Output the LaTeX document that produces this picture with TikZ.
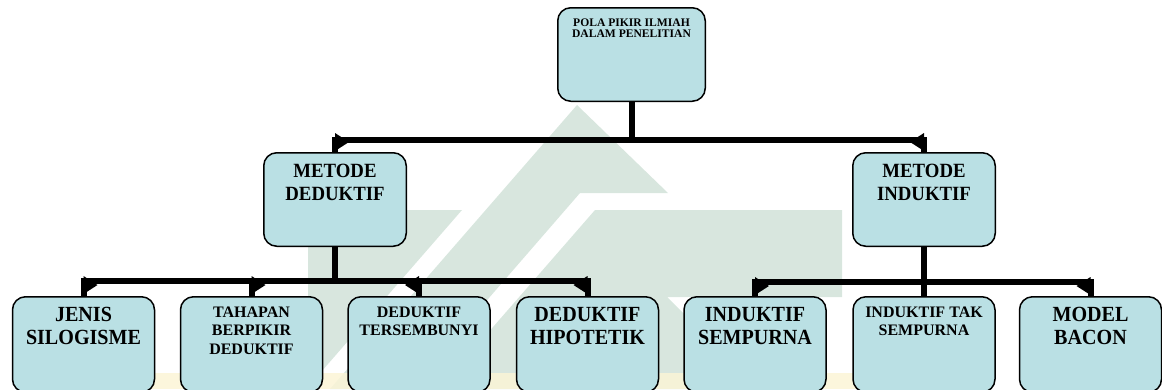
\documentclass[tikz,border=0pt]{standalone}
\usepackage{fontspec}
\setmainfont{Liberation Serif}
\newfontfamily\narrowserif[FakeStretch=0.93]{Liberation Serif}
\usetikzlibrary{calc}

\definecolor{boxfill}{RGB}{186,224,228}
\definecolor{wmgreen}{RGB}{216,230,222}
\definecolor{wmyellow}{RGB}{251,245,214}

\begin{document}
\begin{tikzpicture}[x=1pt,y=-1pt,
  box/.style={draw=black, line width=1.5pt, fill=boxfill, rounded corners=13pt,
              minimum width=142pt, minimum height=95.5pt, inner sep=0pt, outer sep=0pt},
  midbox/.style={box, minimum width=142.5pt, minimum height=93.5pt},
  rootbox/.style={box, minimum width=147.5pt, minimum height=93.5pt},
  lbl/.style={anchor=north, inner sep=0pt, outer sep=0pt, align=center},
  fxs/.style={font=\bfseries\fontsize{11.6}{11.3}\selectfont},
  fmid/.style={font=\narrowserif\bfseries\fontsize{20.2}{23.3}\selectfont},
  fbig/.style={font=\narrowserif\bfseries\fontsize{21.6}{23.3}\selectfont},
  fsm/.style={font=\bfseries\fontsize{16}{18.4}\selectfont},
  bar/.style={draw=black, line width=6pt, line cap=butt, line join=miter},
  tip/.style={fill=black}
]
\useasboundingbox (0,0) rectangle (1162,389);
\begin{scope}
\clip (0,0) rectangle (1162,389);

% faint logo in the background
\fill[wmgreen] (577,105) -- (668,193) -- (580,193) -- (410,389) -- (330,389) -- cycle;
\fill[wmgreen] (308,210) -- (462,210) -- (308,387) -- cycle;
\fill[wmgreen] (595,210) -- (842,210) -- (842,297) -- (667,297) -- (759,389) -- (439,389) -- cycle;
\fill[wmyellow, fill opacity=0.85] (150,373) rectangle (860,389);

% levels of the horizontal bars
\coordinate (lvl1) at (0,140);
\coordinate (lvl2) at (0,281);
\coordinate (lvl3) at (0,282);

% boxes
\node[rootbox] (root) at (631.5,54.5) {};
\node[midbox] (ded) at (335,199.5) {};
\node[midbox] (ind) at (924,199.5) {};
\node[box] (jen) at (83.5,344.5) {};
\node[box] (tah) at (251.5,344.5) {};
\node[box] (ter) at (419,344.5) {};
\node[box] (hip) at (587.5,344.5) {};
\node[box] (ins) at (755,344.5) {};
\node[box] (its) at (924,344.5) {};
\node[box] (bac) at (1090.5,344.5) {};

% connectors: root to the two methods
\draw[bar] (root.south) |- (ded.north |- lvl1) -- (ded.north);
\draw[bar] (root.south) |- (ind.north |- lvl1) -- (ind.north);
\fill[tip] (ded.north |- lvl1) ++(0,-7) -- ++(0,18) -- ++(14,-9) -- cycle;
\fill[tip] (ind.north |- lvl1) ++(0,-7) -- ++(0,18) -- ++(-14,-9) -- cycle;

% connectors: deductive branch
\draw[bar] (ded.south) |- (jen.north |- lvl2) -- (jen.north);
\draw[bar] (ded.south) |- (tah.north |- lvl2) -- (tah.north);
\draw[bar] (ded.south) |- (ter.north |- lvl2) -- (ter.north);
\draw[bar] (ded.south) |- (hip.north |- lvl2) -- (hip.north);
\fill[tip] (jen.north |- lvl2) ++(0,-5) -- ++(0,18) -- ++(14,-9) -- cycle;
\fill[tip] (tah.north |- lvl2) ++(0,-5) -- ++(0,18) -- ++(14,-9) -- cycle;
\fill[tip] (ter.north |- lvl2) ++(0,-5) -- ++(0,18) -- ++(-14,-9) -- cycle;
\fill[tip] (hip.north |- lvl2) ++(0,-5) -- ++(0,18) -- ++(-14,-9) -- cycle;

% connectors: inductive branch
\draw[bar] (ind.south) |- (ins.north |- lvl3) -- (ins.north);
\draw[bar] (ind.south) -- (its.north);
\draw[bar] (ind.south) |- (bac.north |- lvl3) -- (bac.north);
\fill[tip] (ins.north |- lvl3) ++(0,-5) -- ++(0,18) -- ++(14,-9) -- cycle;
\fill[tip] (bac.north |- lvl3) ++(0,-5) -- ++(0,18) -- ++(-14,-9) -- cycle;

% labels
\node[lbl, fxs] (root-t) at ([yshift=-11.2pt]root.north) {POLA PIKIR ILMIAH\\DALAM PENELITIAN};
\node[lbl, fmid] (ded-t) at ([yshift=-11pt]ded.north) {METODE\\DEDUKTIF};
\node[lbl, fmid] (ind-t) at ([yshift=-11pt]ind.north) {METODE\\INDUKTIF};
\node[lbl, fbig] (jen-t) at ([yshift=-10.5pt]jen.north) {JENIS\\SILOGISME};
\node[lbl, fsm] (tah-t) at ([yshift=-10pt]tah.north) {TAHAPAN\\BERPIKIR\\DEDUKTIF};
\node[lbl, fsm] (ter-t) at ([yshift=-10pt]ter.north) {DEDUKTIF\\TERSEMBUNYI};
\node[lbl, fbig] (hip-t) at ([yshift=-10.5pt]hip.north) {DEDUKTIF\\HIPOTETIK};
\node[lbl, fbig] (ins-t) at ([yshift=-10.5pt]ins.north) {INDUKTIF\\SEMPURNA};
\node[lbl, fsm] (its-t) at ([yshift=-10pt]its.north) {INDUKTIF TAK\\SEMPURNA};
\node[lbl, fbig] (bac-t) at ([yshift=-10.5pt]bac.north) {MODEL\\BACON};
\end{scope}
\end{tikzpicture}
\end{document}
